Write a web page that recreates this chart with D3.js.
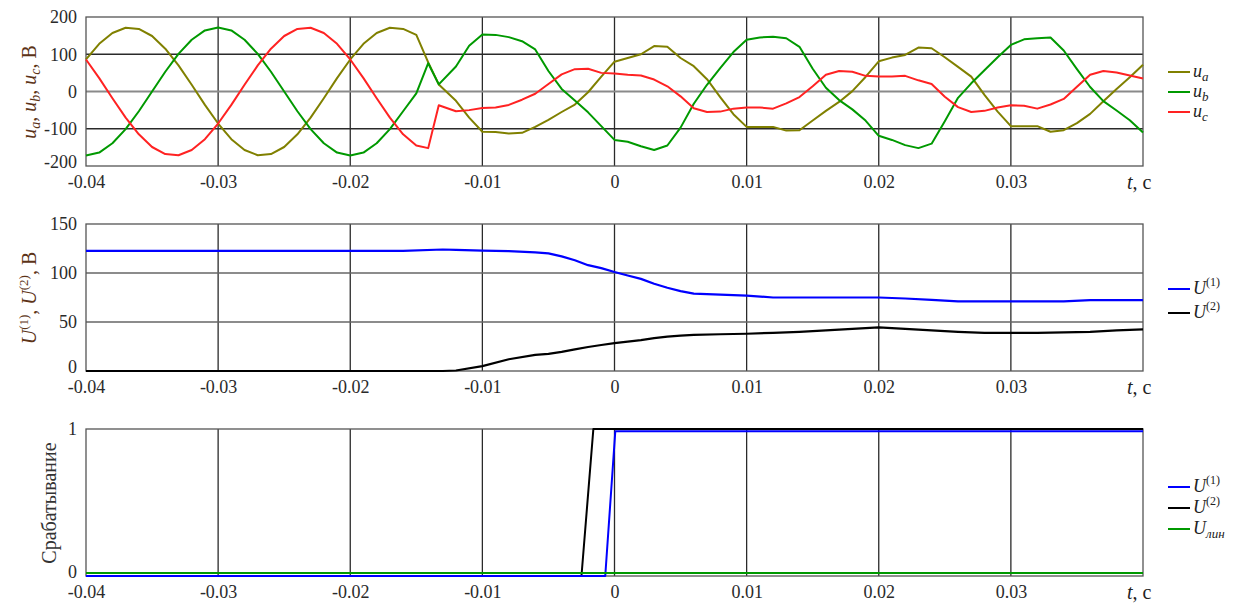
<!DOCTYPE html>
<html>
<head>
<meta charset="utf-8">
<script src="https://cdn.jsdelivr.net/npm/d3@7"></script>
<style>
body { margin: 0; background: #fff; }
svg text { font-family: "Liberation Serif", "DejaVu Serif", "Times New Roman", serif !important; }
.tick-text text { font-size: 18px; fill: #2a2a2a; }
.title { font-size: 20px; fill: #5c3317; }
.legend-text { font-size: 18px; fill: #222; }
</style>
</head>
<body>
<div id="chart-div"></div>
<script>
// ---- data (time in seconds) ----
const xTicks = [-0.04, -0.03, -0.02, -0.01, 0, 0.01, 0.02, 0.03];
const gridX = [-0.03, -0.02, -0.01, 0, 0.01, 0.02, 0.03];

// phase voltages
const tTop = [-0.040, -0.039, -0.038, -0.037, -0.036, -0.035, -0.034, -0.033, -0.032, -0.031,
    -0.030, -0.029, -0.028, -0.027, -0.026, -0.025, -0.024, -0.023, -0.022, -0.021,
    -0.020, -0.019, -0.018, -0.017, -0.016, -0.015, -0.0141, -0.0133,
    -0.012, -0.011, -0.010, -0.009, -0.008, -0.007, -0.006, -0.005, -0.004, -0.003, -0.002, -0.001,
    0.000, 0.001, 0.002, 0.003, 0.004, 0.005, 0.006, 0.007, 0.008, 0.009,
    0.010, 0.011, 0.012, 0.013, 0.014, 0.015, 0.016, 0.017, 0.018, 0.019,
    0.020, 0.021, 0.022, 0.023, 0.024, 0.025, 0.026, 0.027, 0.028, 0.029,
    0.030, 0.031, 0.032, 0.033, 0.034, 0.035, 0.036, 0.037, 0.038, 0.039, 0.040];
const ua = [86, 128, 157, 171, 168, 149, 115, 70, 18, -36,
    -86, -128, -157, -171, -168, -149, -115, -70, -18, 36,
    86, 128, 157, 171, 168, 152, 78, 19,
    -25, -70, -108, -109, -113, -111, -95, -76, -55, -35, -2, 40,
    80, 90, 100, 122, 120, 90, 68, 33, -15, -61,
    -95, -95, -95, -105, -104, -78, -52, -28, 1, 39,
    81, 91, 98, 118, 116, 92, 66, 40, -9, -54,
    -93, -93, -93, -108, -104, -85, -60, -26, 7, 38, 72];
const ub = [-172, -164, -139, -101, -53, 0, 53, 101, 139, 164,
    172, 164, 139, 101, 53, 0, -53, -101, -139, -164,
    -172, -164, -139, -101, -53, -5, 76, 19,
    67, 123, 153, 152, 146, 135, 113, 55, 7, -24, -56, -93,
    -130, -135, -147, -157, -145, -97, -33, 18, 63, 106,
    139, 145, 147, 143, 120, 61, 10, -23, -48, -78,
    -119, -130, -144, -152, -140, -80, -17, 22, 57, 92,
    125, 140, 143, 145, 110, 60, 12, -26, -51, -77, -110];
const uc = [86, 36, -18, -70, -115, -149, -168, -171, -157, -128,
    -86, -36, 18, 70, 115, 149, 168, 171, 157, 128,
    86, 36, -18, -70, -115, -145, -152, -37,
    -53, -50, -44, -43, -36, -22, -6, 20, 46, 60, 61, 50,
    48, 45, 43, 32, 14, -13, -45, -55, -54, -46,
    -43, -43, -46, -32, -15, 14, 45, 55, 53, 42,
    40, 40, 42, 30, 20, -14, -42, -55, -52, -43,
    -37, -38, -46, -35, -20, 13, 45, 55, 51, 43, 35];

// positive / negative sequence magnitudes
const tMid = [-0.040, -0.016, -0.013, -0.012, -0.010, -0.008, -0.006, -0.005, -0.004, -0.003,
    -0.002, -0.001, 0.000, 0.001, 0.002, 0.003, 0.004, 0.005, 0.006, 0.008,
    0.010, 0.012, 0.014, 0.016, 0.018, 0.020, 0.022, 0.024, 0.026, 0.028,
    0.030, 0.032, 0.034, 0.036, 0.038, 0.040];
const u1 = [122.5, 122.5, 124, 123.5, 122.8, 122.4, 121, 120, 117, 113,
    108, 105, 101, 97.5, 94, 89, 85, 81.5, 79, 78,
    77, 75, 75, 75, 75, 75, 74, 72.5, 71, 71,
    71, 71, 71, 72.4, 72.4, 72.4];
const u2 = [0, 0, 0, 0.5, 5, 12, 16.5, 17.5, 19.5, 22,
    24.5, 26.5, 28.5, 30, 31.5, 33.5, 35, 36, 36.8, 37.5,
    38, 39, 40, 41.5, 43, 44.5, 43, 41.5, 40, 39,
    39, 39, 39.5, 40, 41.5, 42.5];

// trip signals
const tTrip1 = [-0.040, -0.0007, 0.00006, 0.040];
const trip1 = [0, 0, 0.985, 0.985];
const tTrip2 = [-0.040, -0.0025, -0.0016, 0.040];
const trip2 = [0, 0, 1, 1];
const tTripLin = [-0.040, 0.040];
const tripLin = [0.02, 0.02];

// ---- drawing ----
const width = 1235;
const height = 604;
const left = 86;
const right = 1143;
const serif = '"Liberation Serif", "DejaVu Serif", "Times New Roman", serif';

const svg = d3.select("#chart-div")
    .append("svg")
    .attr("width", width)
    .attr("height", height)
    .attr("font-family", serif);

svg.append("rect").attr("width", width).attr("height", height).attr("fill", "#fff");

const xScale = d3.scaleLinear()
    .domain([-0.04, 0.04])
    .range([left, right]);

function drawPanel(top, bottom, yDomain, yTicks, gridY, gridStyle) {
    const yScale = d3.scaleLinear().domain(yDomain).range([bottom, top]);
    const g = svg.append("g");

    // vertical grid
    g.selectAll(".vgrid").data(gridX).enter().append("line")
        .attr("x1", d => xScale(d)).attr("x2", d => xScale(d))
        .attr("y1", top).attr("y2", bottom)
        .attr("stroke", "#2a2a2a").attr("stroke-width", 1.3);

    // horizontal grid
    g.selectAll(".hgrid").data(gridY).enter().append("line")
        .attr("x1", left).attr("x2", right)
        .attr("y1", d => yScale(d)).attr("y2", d => yScale(d))
        .attr("stroke", d => gridStyle(d).color)
        .attr("stroke-width", d => gridStyle(d).width);

    g.append("rect")
        .attr("x", left).attr("y", top)
        .attr("width", right - left).attr("height", bottom - top)
        .attr("fill", "none").attr("stroke", "#555").attr("stroke-width", 1.3);

    const xAxis = g.append("g")
        .attr("class", "tick-text")
        .attr("transform", "translate(0," + bottom + ")")
        .call(d3.axisBottom(xScale).tickValues(xTicks).tickSize(0).tickPadding(9)
            .tickFormat(d => String(d)));
    xAxis.attr("font-family", serif);
    xAxis.select(".domain").remove();

    const yAxis = g.append("g")
        .attr("class", "tick-text")
        .attr("transform", "translate(" + left + ",0)")
        .call(d3.axisLeft(yScale).tickValues(yTicks).tickSize(0).tickPadding(9)
            .tickFormat(d => String(d)));
    yAxis.attr("font-family", serif);
    yAxis.select(".domain").remove();
    // lift the bottom label a little so it clears the x labels
    yAxis.selectAll(".tick text").filter(d => d === yDomain[0]).attr("dy", "0.1em");

    // "t, с"
    const tl = g.append("text")
        .attr("x", 1127).attr("y", bottom + 23)
        .attr("font-size", 20).attr("fill", "#222");
    tl.append("tspan").attr("font-style", "italic").text("t");
    tl.append("tspan").text(", с");

    return yScale;
}

function drawLine(yScale, t, v, color, w) {
    svg.append("path")
        .datum(v)
        .attr("fill", "none")
        .attr("stroke", color)
        .attr("stroke-width", w)
        .attr("stroke-linejoin", "round")
        .attr("d", d3.line().x((d, i) => xScale(t[i])).y(d => yScale(d)));
}

function legendItem(y, color, build) {
    svg.append("line")
        .attr("x1", 1168).attr("x2", 1190)
        .attr("y1", y).attr("y2", y)
        .attr("stroke", color).attr("stroke-width", 2);
    const txt = svg.append("text")
        .attr("class", "legend-text")
        .attr("x", 1193).attr("y", y + 5);
    build(txt);
}

function subLabel(txt, main, sub) {
    txt.append("tspan").attr("font-style", "italic").text(main);
    txt.append("tspan").attr("font-style", "italic").attr("font-size", 13).attr("dy", 4).text(sub);
    txt.append("tspan").attr("dy", -4).text("");
}

function supLabel(txt, main, sup) {
    txt.append("tspan").attr("font-style", "italic").text(main);
    txt.append("tspan").attr("font-size", 12).attr("dy", -8).text(sup);
    txt.append("tspan").attr("dy", 8).text("");
}

const olive = "#808000";
const green = "#009900";
const red = "#ff2222";
const blue = "#0000ff";

// top panel
const yTop = drawPanel(17, 166, [-200, 200], [-200, -100, 0, 100, 200], [-100, 0, 100],
    d => d === 0 ? { color: "#8a8a8a", width: 2 } : { color: "#2a2a2a", width: 1.3 });
drawLine(yTop, tTop, ua, olive, 2);
drawLine(yTop, tTop, ub, green, 2);
drawLine(yTop, tTop, uc, red, 2);

legendItem(72, olive, t => subLabel(t, "u", "a"));
legendItem(92, green, t => subLabel(t, "u", "b"));
legendItem(112, red, t => subLabel(t, "u", "c"));

const topTitle = svg.append("text")
    .attr("class", "title")
    .attr("transform", "translate(36,92) rotate(-90)")
    .attr("text-anchor", "middle");
["a", "b", "c"].forEach(function(s) {
    topTitle.append("tspan").attr("font-style", "italic").text("u");
    topTitle.append("tspan").attr("font-style", "italic").attr("font-size", 14).attr("dy", 4).text(s);
    topTitle.append("tspan").attr("dy", -4).text(", ");
});
topTitle.append("tspan").text("В");

// middle panel
const yMid = drawPanel(224, 371, [0, 150], [0, 50, 100, 150], [50, 100],
    d => ({ color: "#666", width: 1.3 }));
drawLine(yMid, tMid, u1, blue, 2.2);
drawLine(yMid, tMid, u2, "#000", 2.2);

legendItem(289, blue, t => supLabel(t, "U", "(1)"));
legendItem(313, "#000", t => supLabel(t, "U", "(2)"));

const midTitle = svg.append("text")
    .attr("class", "title")
    .attr("transform", "translate(36,298) rotate(-90)")
    .attr("text-anchor", "middle");
["(1)", "(2)"].forEach(function(s) {
    midTitle.append("tspan").attr("font-style", "italic").text("U");
    midTitle.append("tspan").attr("font-size", 13).attr("dy", -8).text(s);
    midTitle.append("tspan").attr("dy", 8).text(", ");
});
midTitle.append("tspan").text("В");

// bottom panel
const yBot = drawPanel(429, 576, [0, 1], [0, 1], [],
    d => ({ color: "#666", width: 1 }));
drawLine(yBot, tTrip2, trip2, "#000", 2);
drawLine(yBot, tTrip1, trip1, blue, 2);
drawLine(yBot, tTripLin, tripLin, green, 2);

legendItem(487, blue, t => supLabel(t, "U", "(1)"));
legendItem(508, "#000", t => supLabel(t, "U", "(2)"));
legendItem(529, green, t => subLabel(t, "U", "лин"));

svg.append("text")
    .attr("class", "title")
    .attr("transform", "translate(56,503) rotate(-90)")
    .attr("text-anchor", "middle")
    .style("fill", "#333")
    .text("Срабатывание");
</script>
</body>
</html>
